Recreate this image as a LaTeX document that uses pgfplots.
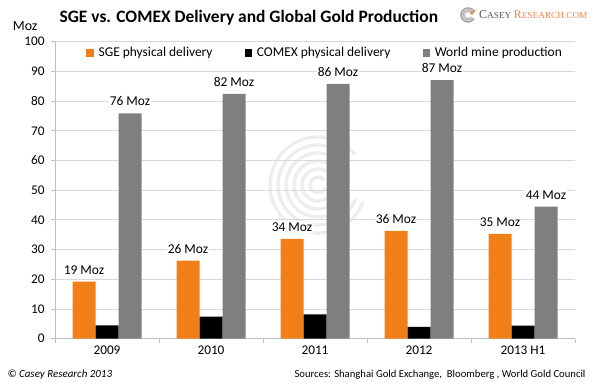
\documentclass[border=0pt]{standalone}
\usepackage{pgfplots}
\pgfplotsset{compat=1.18}
\usepackage{pgfplotstable}
\usepackage{fontspec}
\setmainfont{Carlito}
\newfontfamily\logofont{Liberation Serif}
\definecolor{sgeor}{HTML}{F07F17}
\definecolor{minegray}{HTML}{7F7F7F}
\definecolor{gridc}{HTML}{D9D9D9}
\definecolor{axisc}{HTML}{BFBFBF}
\definecolor{logored}{HTML}{F2844A}
\definecolor{logogray}{HTML}{555555}
\definecolor{wm}{HTML}{EDEDED}

\pgfplotstableread{
x sge comex mine sgel minel
0 19.2 4.5 75.9 19 76
1 26.3 7.4 82.4 26 82
2 33.6 8.2 85.8 34 86
3 36.3 4.0 87.1 36 87
4 35.3 4.4 44.5 35 44
}\gold

\begin{document}
\begin{tikzpicture}
\path[use as bounding box] (0,0) rectangle (600bp,385bp);
% watermark
\begin{scope}[shift={(318bp,200bp)}, wm, line width=3.2bp]
\foreach \r in {8,16,24,32,40,48}{
  \draw (40:\r bp) arc[start angle=40, end angle=340, radius=\r bp];
}
\end{scope}
\begin{axis}[
  at={(55bp,46.3bp)}, anchor=south west,
  scale only axis, width=520bp, height=297bp,
  xmin=-0.5, xmax=4.5, ymin=0, ymax=100,
  ybar=0pt, bar width=23bp,
  axis x line*=bottom, axis y line*=left,
  axis line style={axisc, line width=0.8bp},
  xtick={-0.5,0.5,...,4.5}, xticklabels={},
  extra x ticks={0,1,2,3,4},
  extra x tick labels={2009,2010,2011,2012,2013 H1},
  extra x tick style={major tick length=0pt, grid=none},
  ytick={0,10,...,100},
  ymajorgrids, grid style={gridc, line width=0.8bp},
  tick align=outside, major tick length=4bp,
  tick style={axisc, line width=0.8bp},
  tick label style={font=\fontsize{13.3}{15}\selectfont, text=black},
  /pgf/number format/assume math mode=true,
  xticklabel style={yshift=-4bp},
  yticklabel style={xshift=-3bp},
  legend columns=3,
  legend style={at={(0.06,0.962)}, anchor=west, draw=none, fill=none,
    font=\fontsize{13.5}{15}\selectfont, inner sep=0pt,
    /tikz/every odd column/.append style={column sep=3bp},
    /tikz/every even column/.append style={column sep=30bp}},
  legend cell align=left,
  legend image code/.code={\fill[#1] (0bp,-3.6bp) rectangle (7.2bp,3.6bp);},
  nodes near coords style={font=\fontsize{13.5}{15}\selectfont, fill=white, inner sep=1.2bp, anchor=south, yshift=6bp, text=black},
]
\addplot[fill=sgeor, draw=none, point meta=explicit symbolic,
  nodes near coords={\pgfplotspointmeta\ Moz}]
  table[x=x, y=sge, meta=sgel] {\gold};
\addlegendentry{SGE physical delivery}
\addplot[fill=black, draw=none] table[x=x, y=comex] {\gold};
\addlegendentry{COMEX physical delivery}
\addplot[fill=minegray, draw=none, point meta=explicit symbolic,
  nodes near coords={\pgfplotspointmeta\ Moz}]
  table[x=x, y=mine, meta=minel] {\gold};
\addlegendentry{World mine production}
\end{axis}
% title and labels
\node[anchor=west, font=\bfseries\fontsize{17.5}{20}\selectfont] at (56bp,367bp) {SGE vs. COMEX Delivery and Global Gold Production};
\node[anchor=east, font=\fontsize{14}{16}\selectfont] at (41bp,359bp) {Moz};
% logo
\begin{scope}[shift={(468bp,370bp)}]
\foreach \r/\c in {7/gray!70, 5.2/gray!55, 3.4/gray!40}{
  \draw[\c, line width=1.5bp] (30:\r bp) arc[start angle=30, end angle=330, radius=\r bp];
}
\fill[logored] (2bp,2bp) -- (8.5bp,5.5bp) -- (4bp,0bp) -- cycle;
\end{scope}
\node[anchor=west, inner sep=0pt, font=\logofont] at (479bp,370bp) {{\color{logogray}{\fontsize{12}{14}\selectfont C}{\fontsize{9.3}{11}\selectfont ASEY} }{\color{logored}{\fontsize{12}{14}\selectfont R}{\fontsize{9.3}{11}\selectfont ESEARCH.COM}}};
% footer
\node[anchor=west, font=\itshape\fontsize{11}{13}\selectfont] at (4bp,10bp) {© Casey Research 2013};
\node[anchor=east, font=\fontsize{10.7}{12}\selectfont] at (589bp,10bp) {Sources: Shanghai Gold Exchange,\ \ Bloomberg , World Gold Council};
\end{tikzpicture}
\end{document}
